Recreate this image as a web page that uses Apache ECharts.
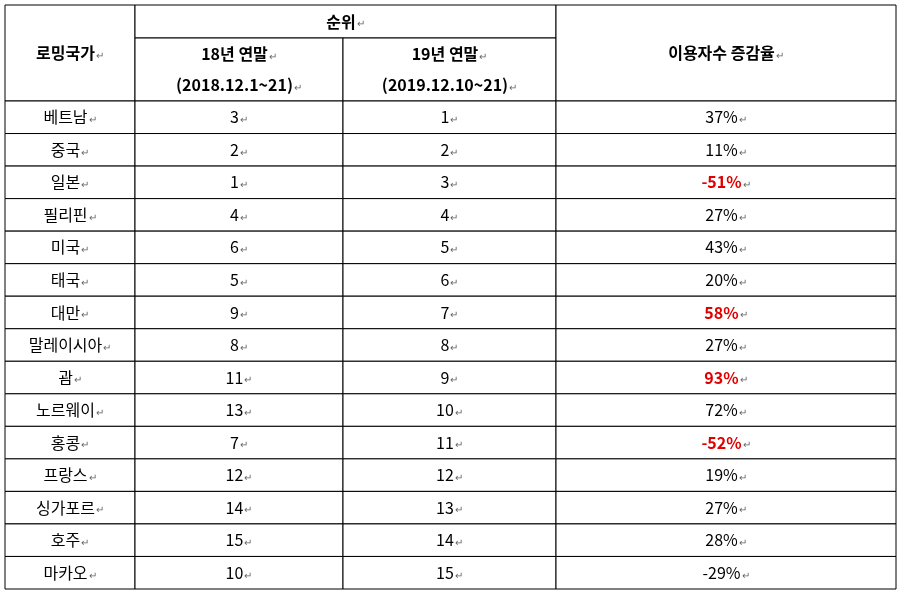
<!DOCTYPE html>
<html><head><meta charset="utf-8">
<script src="https://cdn.jsdelivr.net/npm/echarts@6/dist/echarts.min.js"></script>
<style>html,body{margin:0;padding:0;background:#fff}#c{width:900px;height:598px}</style>
</head><body><div id="c"></div>
<script>
const countries = ['베트남','중국','일본','필리핀','미국','태국','대만','말레이시아','괌','노르웨이','홍콩','프랑스','싱가포르','호주','마카오'];
const rank2018 = [3,2,1,4,6,5,9,8,11,13,7,12,14,15,10];
const rank2019 = [1,2,3,4,5,6,7,8,9,10,11,12,13,14,15];
const changeRate = ['37%','11%','-51%','27%','43%','20%','58%','27%','93%','72%','-52%','19%','27%','28%','-29%'];
const highlighted = ['일본','대만','괌','홍콩'];
const headers = {country:'로밍국가', rank:'순위', y18:'18년 연말', y18p:'(2018.12.1~21)', y19:'19년 연말', y19p:'(2019.12.10~21)', rate:'이용자수 증감율'};

const colEdges = [0,130,338,551,891];
const FONT = '"Noto Sans CJK KR", sans-serif';
const chart = echarts.init(document.getElementById('c'));
const cells = [];
countries.forEach((c,i)=>{for(let k=0;k<4;k++) cells.push([k,i]);});
function cellText(col,row){
  if(col===0) return countries[row];
  if(col===1) return String(rank2018[row]);
  if(col===2) return String(rank2019[row]);
  return changeRate[row];
}
const rich = {
  n:{fontFamily:FONT,fontSize:16,fill:'#000'},
  r:{fontFamily:FONT,fontSize:16,fontWeight:'bold',fill:'#e00000'},
  b:{fontFamily:FONT,fontSize:16,fontWeight:'bold',fill:'#000'},
  m:{fontFamily:FONT,fontSize:10,fill:'#666',padding:[4,0,0,1]}
};
function hdr(x,y,w,h,lines){
  const els=[{type:'rect',shape:{x,y,width:w,height:h},style:{fill:'#fff',stroke:'#000',lineWidth:1}}];
  lines.forEach((t,j)=>{
    const ty = y + h*(j+0.5)/lines.length;
    els.push({type:'text',x:x+w/2,y:ty,style:{text:'{b|'+t+'}{m|↵}',rich,align:'center',verticalAlign:'middle'}});
  });
  return els;
}
const L=5,T=5;
let graphic=[];
graphic=graphic.concat(hdr(L+colEdges[0],T,colEdges[1],96,[headers.country]));
graphic=graphic.concat(hdr(L+colEdges[1],T,colEdges[3]-colEdges[1],33,[headers.rank]));
graphic=graphic.concat(hdr(L+colEdges[1],T+33,colEdges[2]-colEdges[1],63,[headers.y18,headers.y18p]));
graphic=graphic.concat(hdr(L+colEdges[2],T+33,colEdges[3]-colEdges[2],63,[headers.y19,headers.y19p]));
graphic=graphic.concat(hdr(L+colEdges[3],T,colEdges[4]-colEdges[3],96,[headers.rate]));

chart.setOption({
  animation:false,
  grid:{left:5,right:4,top:101,bottom:9},
  xAxis:{type:'value',min:0,max:891,show:false},
  yAxis:{type:'category',data:countries,inverse:true,show:false},
  graphic,
  series:[{
    type:'custom',
    data:cells,
    renderItem:(params,api)=>{
      const col=api.value(0), row=api.value(1);
      const p0=api.coord([colEdges[col],row]);
      const p1=api.coord([colEdges[col+1],row]);
      const h=api.size([0,1])[1];
      const txt=cellText(col,row);
      const red = col===3 && highlighted.includes(countries[row]);
      return {type:'group',children:[
        {type:'rect',shape:{x:p0[0],y:p0[1]-h/2,width:p1[0]-p0[0],height:h},style:{fill:'#fff',stroke:'#000',lineWidth:1}},
        {type:'text',x:(p0[0]+p1[0])/2,y:p0[1],style:{text:'{'+(red?'r':'n')+'|'+txt+'}{m|↵}',rich,align:'center',verticalAlign:'middle'}}
      ]};
    }
  }]
});
</script></body></html>
